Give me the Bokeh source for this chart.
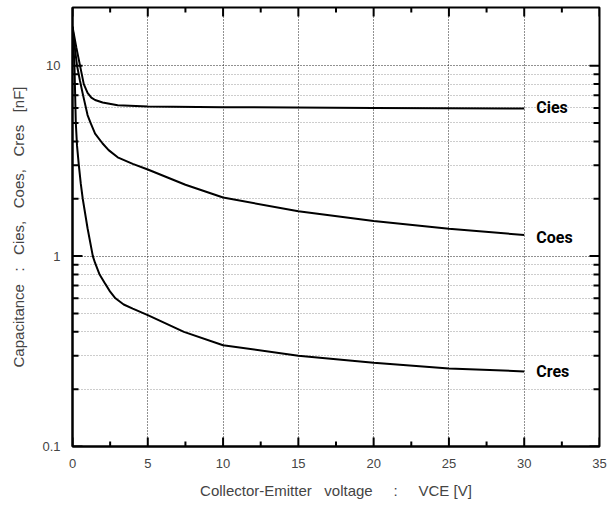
from bokeh.plotting import figure
from bokeh.models import (Range1d, FixedTicker, LinearAxis, LogAxis)
from bokeh.core.properties import value
from bokeh.embed import file_html
from bokeh.resources import INLINE
import math

# ---- data ----
cies_x = [0, 0.25, 0.5, 0.75, 1.0, 1.25, 1.5, 2.0, 3.0, 5.0, 10.0, 20.0, 30.0]
cies_y = [16.0, 12.5, 10.0, 8.0, 7.2, 6.8, 6.6, 6.4, 6.2, 6.1, 6.05, 6.0, 5.95]

coes_x = [0, 0.15, 0.3, 0.5, 0.7, 1.0, 1.2, 1.5, 2.0, 2.4, 3.0, 4.0, 5.0, 7.5, 10.0, 15.0, 20.0, 25.0, 30.0]
coes_y = [16.0, 12.5, 10.0, 8.3, 7.0, 5.5, 5.0, 4.4, 3.9, 3.6, 3.3, 3.05, 2.85, 2.37, 2.03, 1.72, 1.53, 1.39, 1.29]

cres_x = [0, 0.07, 0.13, 0.22, 0.3, 0.42, 0.55, 0.68, 1.0, 1.35, 1.5, 1.8, 2.2, 2.5, 2.85, 3.4, 4.0, 5.0, 7.4, 10.0, 15.0, 20.0, 25.0, 30.0]
cres_y = [16.0, 12.5, 10.0, 5.0, 3.8, 3.0, 2.4, 2.0, 1.4, 1.0, 0.92, 0.80, 0.71, 0.65, 0.60, 0.557, 0.53, 0.49, 0.40, 0.34, 0.30, 0.275, 0.257, 0.248]

series_names = ["Cies", "Coes", "Cres"]
label_x = [30.8, 30.8, 30.8]
label_y = [6.0, 1.25, 0.248]

x_major = [0, 5, 10, 15, 20, 25, 30, 35]
x_minor = [2.5, 7.5, 12.5, 17.5, 22.5, 27.5, 32.5]
x_grid = [5, 10, 15, 20, 25, 30]
y_major = [0.1, 1, 10]
y_minor = [0.2, 0.3, 0.4, 0.5, 0.6, 0.7, 0.8, 0.9, 2, 3, 4, 5, 6, 7, 8, 9]
y_labels = {0.1: "0.1", 1: "1", 10: "10"}

X_MIN, X_MAX = 0, 35
Y_MIN, Y_MAX = 0.1, 20.2

NB = "\u00a0"
x_title = "Collector-Emitter" + NB * 2 + " voltage" + NB * 4 + " :" + NB * 4 + " VCE [V]"
y_title = "Capacitance" + NB * 2 + " :" + NB * 2 + " Cies," + NB * 2 + " Coes," + NB * 2 + " Cres" + NB * 2 + " [nF]"

FONT = "Liberation Sans"
W, H = 615, 505
BL, BR, BT, BB = 72, 16, 7, 59

p = figure(width=W, height=H, output_backend="svg", toolbar_location=None,
           y_axis_type="log", x_range=Range1d(X_MIN, X_MAX), y_range=Range1d(Y_MIN, Y_MAX),
           min_border_left=BL, min_border_right=BR, min_border_top=BT, min_border_bottom=BB,
           x_axis_location=None, y_axis_location=None)
p.background_fill_color = "white"
p.border_fill_color = "white"
p.outline_line_color = "black"
p.outline_line_width = 2

xt = FixedTicker(ticks=x_major, minor_ticks=x_minor)
yt = FixedTicker(ticks=y_major, minor_ticks=y_minor)

def style_axis(ax):
    ax.axis_line_color = "black"
    ax.axis_line_width = 2
    ax.major_tick_in = 0
    ax.major_tick_out = 0
    ax.minor_tick_in = 0
    ax.minor_tick_out = 0

xb = LinearAxis(ticker=xt, axis_label=x_title)
style_axis(xb)
xb.major_label_text_font = FONT
xb.major_label_text_font_size = "13px"
xb.major_label_standoff = 12
xb.axis_label_text_font = FONT
xb.axis_label_text_font_size = "15px"
xb.axis_label_text_font_style = "normal"
xb.axis_label_standoff = 11
p.add_layout(xb, "below")

yl = LogAxis(ticker=yt, axis_label=y_title, major_label_overrides=y_labels)
style_axis(yl)
yl.major_label_text_font = FONT
yl.major_label_text_font_size = "13px"
yl.major_label_standoff = 12
yl.axis_label_text_font = FONT
yl.axis_label_text_font_size = "15px"
yl.axis_label_text_font_style = "normal"
yl.axis_label_standoff = 12
p.add_layout(yl, "left")

# grids
p.xgrid.ticker = FixedTicker(ticks=x_grid)
p.xgrid.grid_line_color = "#222222"
p.xgrid.grid_line_dash = "1 2"
p.xgrid.grid_line_width = 1
p.ygrid.ticker = yt
p.ygrid.grid_line_color = "#222222"
p.ygrid.grid_line_dash = "1 2"
p.ygrid.grid_line_width = 1
p.ygrid.minor_grid_line_color = "#9a9a9a"
p.ygrid.minor_grid_line_dash = "1 2"
p.ygrid.minor_grid_line_width = 1

# inward tick marks on all four sides (multi-line, pixel length -> data length)
px_per_x = (W - BL - BR) / (X_MAX - X_MIN)
px_per_dec = (H - BT - BB) / (math.log10(Y_MAX) - math.log10(Y_MIN))

tick_xs, tick_ys = [], []
for xs, L in [(x_major, 9), (x_minor, 5)]:
    fy = 10 ** (L / px_per_dec)
    for x in xs:
        tick_xs += [[x, x], [x, x]]
        tick_ys += [[Y_MIN, Y_MIN * fy], [Y_MAX, Y_MAX / fy]]
for ys, L in [(y_major, 10), (y_minor, 6)]:
    dx = L / px_per_x
    for y in ys:
        tick_xs += [[X_MIN, X_MIN + dx], [X_MAX, X_MAX - dx]]
        tick_ys += [[y, y], [y, y]]
p.multi_line(tick_xs, tick_ys, line_color="black", line_width=2)

for xs, ys in [(cies_x, cies_y), (coes_x, coes_y), (cres_x, cres_y)]:
    p.line(xs, ys, line_color="black", line_width=2)

p.text(x=label_x, y=label_y, text=series_names, text_font=value("Roboto"),
       text_font_style="bold", text_font_size="16px", text_baseline="middle",
       text_align="left", text_color="black")

open("out.html", "w").write(file_html(p, INLINE))
